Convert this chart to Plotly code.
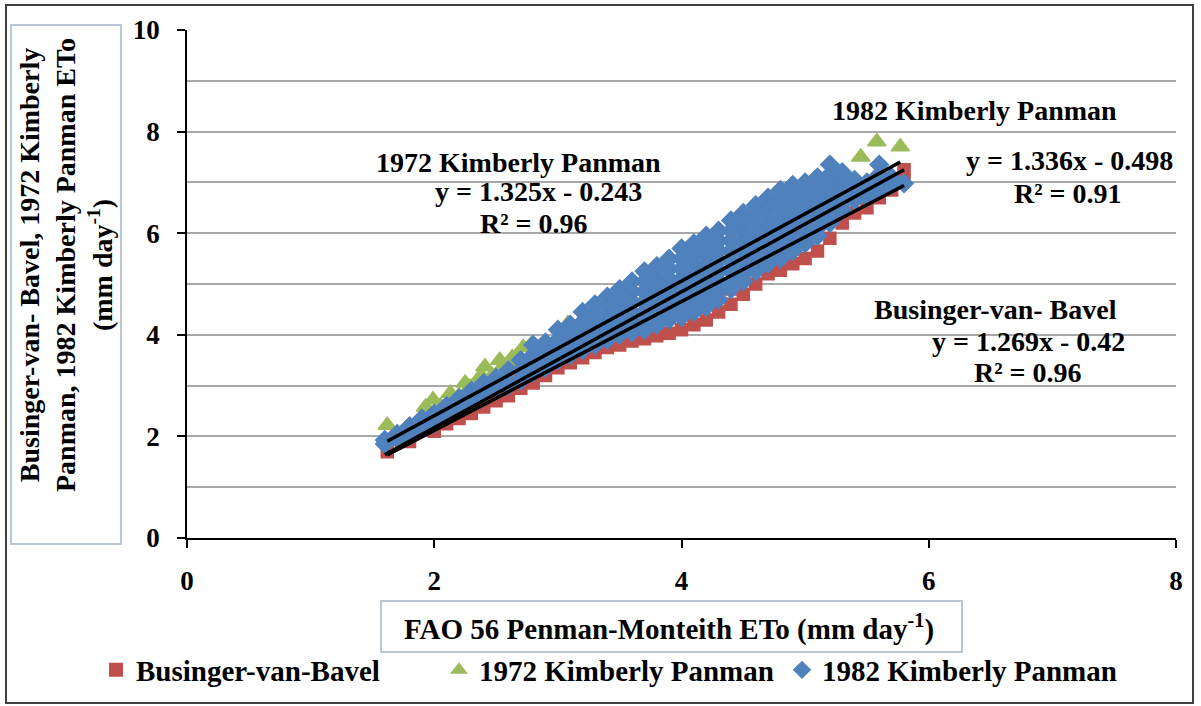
import plotly.graph_objects as go

# ---------------- data ----------------
series_names = ["Businger-van-Bavel", "1972 Kimberly Panman", "1982 Kimberly Panman"]
series_colors = ["#C0504D", "#9BBB59", "#4F81BD"]

# Businger-van-Bavel (columns of points)
bvb_cols_x = [1.62, 1.80, 2.00, 2.10, 2.20, 2.30, 2.40, 2.50, 2.60, 2.70, 2.80, 2.90,
              3.00, 3.10, 3.20, 3.30, 3.40, 3.50, 3.60, 3.70, 3.80, 3.90, 4.00, 4.10,
              4.20, 4.30, 4.40, 4.50, 4.60, 4.70, 4.80, 4.90, 5.00, 5.10, 5.20, 5.30,
              5.40, 5.50, 5.60, 5.70, 5.80]
bvb_cols_y = [[1.7], [1.9], [2.1], [2.25], [2.35], [2.45, 2.7], [2.58], [2.7, 2.95],
              [2.8], [2.95, 3.2], [3.05], [3.2], [3.35, 3.6], [3.45], [3.55, 3.8],
              [3.65], [3.75, 4.0], [3.8], [3.88, 4.2], [3.92], [3.98, 4.3], [4.03],
              [4.1, 4.5], [4.2], [4.29, 4.7], [4.45], [4.6, 4.9], [4.8], [5.0, 5.4],
              [5.2], [5.27, 5.6], [5.4], [5.5, 5.9], [5.65], [5.9, 6.3], [6.2],
              [6.4, 6.7], [6.5], [6.7, 7.0], [6.85], [7.25, 7.05]]

# 1972 Kimberly Panman
k72_x = [1.62, 1.93, 1.99, 2.05, 2.13, 2.20, 2.25, 2.29, 2.35, 2.38, 2.41, 2.47, 2.53,
         2.56, 2.60, 2.63, 2.67, 2.72, 2.78, 2.90, 3.08, 3.30, 3.50, 3.75, 4.00, 4.30,
         4.60, 4.85, 4.95, 5.00, 5.20, 5.45, 5.58, 5.77]
k72_y = [2.22, 2.58, 2.72, 2.60, 2.85, 2.80, 3.05, 2.97, 3.10, 3.20, 3.37, 3.20, 3.50,
         3.40, 3.45, 3.55, 3.60, 3.75, 3.80, 3.80, 4.22, 4.30, 4.60, 4.94, 5.00, 5.50,
         5.60, 6.50, 6.50, 6.85, 6.80, 7.50, 7.80, 7.70]

# 1982 Kimberly Panman (columns of points)
k82_cols_x = [1.60, 1.70, 1.80, 1.90, 2.00, 2.10, 2.20, 2.30, 2.40, 2.50, 2.60, 2.70,
              2.80, 2.90, 3.00, 3.10, 3.20, 3.30, 3.40, 3.50, 3.60, 3.70, 3.80, 3.90,
              4.00, 4.10, 4.20, 4.30, 4.40, 4.50, 4.60, 4.70, 4.80, 4.90, 5.00, 5.10,
              5.20, 5.30, 5.40, 5.50, 5.60, 5.70, 5.80]
k82_cols_y = [[1.93, 1.85], [2.05, 1.95], [2.2, 2.05], [2.35, 2.15], [2.45, 2.25],
              [2.6, 2.4], [2.75, 2.55], [2.9, 2.7], [3.05, 2.85], [3.15, 2.95],
              [3.3, 3.1, 3.0], [3.5, 3.3, 3.1], [3.8, 3.6, 3.4, 3.25],
              [3.85, 3.65, 3.45, 3.35], [4.1, 3.9, 3.7, 3.5], [4.2, 4.0, 3.8, 3.6],
              [4.45, 4.25, 4.05, 3.85, 3.7], [4.6, 4.4, 4.2, 4.0, 3.8],
              [4.75, 4.55, 4.35, 4.15, 3.95, 3.9], [4.9, 4.7, 4.5, 4.3, 4.1, 4.0],
              [5.05, 4.85, 4.65, 4.45, 4.25, 4.05],
              [5.25, 5.05, 4.85, 4.65, 4.45, 4.25, 4.1],
              [5.35, 5.15, 4.95, 4.75, 4.55, 4.35, 4.2],
              [5.5, 5.3, 5.1, 4.9, 4.7, 4.5, 4.3],
              [5.7, 5.5, 5.3, 5.1, 4.9, 4.7, 4.5, 4.35],
              [5.8, 5.6, 5.4, 5.2, 5.0, 4.8, 4.6, 4.45],
              [5.95, 5.75, 5.55, 5.35, 5.15, 4.95, 4.75, 4.55],
              [6.05, 5.85, 5.65, 5.45, 5.25, 5.05, 4.85, 4.7],
              [6.25, 6.05, 5.85, 5.65, 5.45, 5.25, 5.05, 4.9],
              [6.4, 6.2, 6.0, 5.8, 5.6, 5.4, 5.2, 5.05],
              [6.55, 6.35, 6.15, 5.95, 5.75, 5.55, 5.35, 5.25],
              [6.7, 6.5, 6.3, 6.1, 5.9, 5.7, 5.5, 5.4],
              [6.85, 6.65, 6.45, 6.25, 6.05, 5.85, 5.65, 5.5],
              [6.95, 6.75, 6.55, 6.35, 6.15, 5.95, 5.75, 5.65],
              [7.0, 6.8, 6.6, 6.4, 6.2, 6.0, 5.8],
              [7.1, 6.9, 6.7, 6.5, 6.3, 6.1, 5.95],
              [7.35, 7.15, 6.95, 6.75, 6.55, 6.35, 6.2],
              [7.2, 7.0, 6.8, 6.6, 6.45], [7.05, 6.85, 6.65], [7.0, 6.8, 6.7],
              [7.35, 7.15, 6.95, 6.85], [7.1, 6.95], [6.98]]

# trend line coefficients (from the chart labels)
trend_slopes = [1.269, 1.325, 1.336]
trend_intercepts = [-0.42, -0.243, -0.498]
trend_r2 = [0.96, 0.96, 0.91]

x_ticks = [0, 2, 4, 6, 8]
y_ticks = [0, 2, 4, 6, 8, 10]

x_title = "FAO 56 Penman-Monteith ETo (mm day<sup>-1</sup>)"
y_title = ("Businger-van- Bavel, 1972 Kimberly<br>"
           "Panman, 1982 Kimberly Panman ETo<br>(mm day<sup>-1</sup>)")
label_names = ["Businger-van- Bavel", "1972 Kimberly Panman", "1982 Kimberly Panman"]

# ---------------- layout geometry ----------------
W, H = 1201, 706
ML, MR, MT, MB = 187, 25, 30, 168
PW, PH = W - ML - MR, H - MT - MB


def px(xp):
    return (xp - ML) / PW


def py(yp):
    return (H - MB - yp) / PH


FONT = "Liberation Serif"


def flatten(cols_x, cols_y):
    fx, fy = [], []
    for xv, ys in zip(cols_x, cols_y):
        for yv in ys:
            fx.append(xv)
            fy.append(yv)
    return fx, fy


bvb_x, bvb_y = flatten(bvb_cols_x, bvb_cols_y)
k82_x, k82_y = flatten(k82_cols_x, k82_cols_y)

data_x = [bvb_x, k72_x, k82_x]
data_y = [bvb_y, k72_y, k82_y]
symbols = ["square", "triangle-up", "diamond"]
sizes = [12, 16, 14]

fig = go.Figure()
for i in range(3):
    fig.add_trace(go.Scatter(
        x=data_x[i], y=data_y[i], mode="markers", name=series_names[i],
        marker=dict(symbol=symbols[i], size=sizes[i], color=series_colors[i],
                    line=dict(width=1.5, color=series_colors[i])),
    ))

# trend lines
for i in range(3):
    x0, x1 = min(data_x[i]), max(data_x[i])
    fig.add_trace(go.Scatter(
        x=[x0, x1],
        y=[trend_slopes[i] * x0 + trend_intercepts[i], trend_slopes[i] * x1 + trend_intercepts[i]],
        mode="lines", line=dict(color="black", width=3.5), showlegend=False,
        hoverinfo="skip",
    ))

# equation labels (pixel centres: name, equation, R2)
label_pos = [
    [(995, 309), (1028, 341), (1028, 372)],
    [(518, 162), (538, 191), (534, 223)],
    [(974, 110), (1069, 160), (1068, 193)],
]
annotations = []
ann_font = dict(family=FONT, size=28, color="black", weight="bold")
for i in range(3):
    texts = [label_names[i],
             f"y = {trend_slopes[i]}x - {abs(trend_intercepts[i])}",
             f"R² = {trend_r2[i]}"]
    for t, (xp, yp) in zip(texts, label_pos[i]):
        annotations.append(dict(text=t, x=px(xp), y=py(yp), xref="paper", yref="paper",
                                xanchor="center", yanchor="middle", showarrow=False,
                                font=ann_font))

# axis titles
annotations.append(dict(text=x_title, x=px(669), y=py(627), xref="paper", yref="paper",
                        xanchor="center", yanchor="middle", showarrow=False,
                        font=dict(family=FONT, size=29, color="black", weight="bold")))
annotations.append(dict(text=y_title, x=px(66), y=py(265), xref="paper", yref="paper",
                        xanchor="center", yanchor="middle", showarrow=False, textangle=-90,
                        align="center",
                        font=dict(family=FONT, size=28, color="black", weight="bold")))

shapes = [
    # outer chart border
    dict(type="rect", xref="paper", yref="paper", x0=px(6), x1=px(1193), y0=py(703), y1=py(5),
         line=dict(color="#404040", width=2), layer="below"),
    # y title box
    dict(type="rect", xref="paper", yref="paper", x0=px(11), x1=px(121), y0=py(544), y1=py(25),
         line=dict(color="#B8C6D8", width=2), layer="below"),
    # x title box
    dict(type="rect", xref="paper", yref="paper", x0=px(381), x1=px(962), y0=py(652), y1=py(601),
         line=dict(color="#B8C6D8", width=2), layer="below"),
]

tick_font = dict(family=FONT, size=27, color="black", weight="bold")

fig.update_layout(
    width=W, height=H,
    margin=dict(l=ML, r=MR, t=MT, b=MB, autoexpand=False),
    paper_bgcolor="white", plot_bgcolor="white",
    showlegend=True,
    legend=dict(orientation="h", x=px(96), xanchor="left", y=py(670), yanchor="middle",
                font=dict(family=FONT, size=29, color="black", weight="bold"),
                itemsizing="constant", bgcolor="rgba(0,0,0,0)",
                entrywidth=298, entrywidthmode="pixels"),
    annotations=annotations,
    shapes=shapes,
    xaxis=dict(range=[0, 8], tickvals=x_ticks, showgrid=False, zeroline=False,
               showline=True, linecolor="black", linewidth=1.5,
               ticks="outside", ticklen=8, tickcolor="black", tickwidth=1.5,
               tickfont=tick_font, ticklabelstandoff=10),
    yaxis=dict(range=[0, 10], tickvals=y_ticks, showgrid=True, gridcolor="#A8A8A8",
               gridwidth=1.5, zeroline=False,
               showline=True, linecolor="black", linewidth=1.5,
               ticks="outside", ticklen=8, tickcolor="black", tickwidth=1.5,
               tickfont=tick_font, ticklabelstandoff=12,
               minor=dict(dtick=1, tick0=0, showgrid=True, gridcolor="#A8A8A8",
                          gridwidth=1.5, ticks="")),
)

fig.write_html("out.html")
